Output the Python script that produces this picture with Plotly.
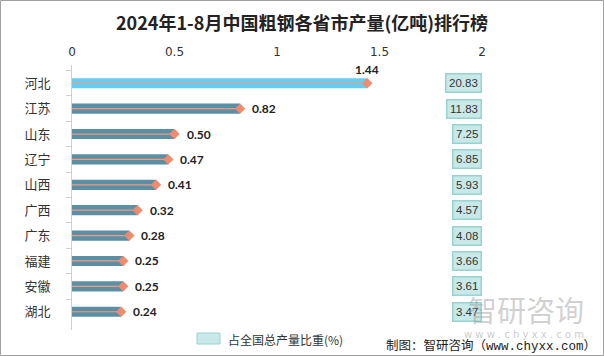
import plotly.graph_objects as go

provinces = ["河北", "江苏", "山东", "辽宁", "山西", "广西", "广东", "福建", "安徽", "湖北"]
output = [1.44, 0.82, 0.50, 0.47, 0.41, 0.32, 0.28, 0.25, 0.25, 0.24]
share = ["20.83", "11.83", "7.25", "6.85", "5.93", "4.57", "4.08", "3.66", "3.61", "3.47"]
x_ticks = [0, 0.5, 1, 1.5, 2]
x_tick_labels = ["0", "0.5", "1", "1.5", "2"]

W, H = 604, 356
ML, MR, MT, MB = 72, 122, 65, 26
PW, PH = W - ML - MR, H - MT - MB

bar_colors = ["#68cbf0"] + ["#5b8fa4"] * (len(provinces) - 1)


def px_x(px):
    return (px - ML) / PW


def px_y(py):
    return (H - MB - py) / PH


fig = go.Figure()
fig.add_trace(go.Bar(
    x=output, y=provinces, orientation="h",
    marker=dict(color=bar_colors, line=dict(width=0)),
    width=0.4, showlegend=False, hoverinfo="x+y",
))
for p, v in zip(provinces, output):
    fig.add_trace(go.Scatter(
        x=[0, v], y=[p, p], mode="lines",
        line=dict(color="#f19a80", width=1.2),
        showlegend=False, hoverinfo="skip",
    ))
fig.add_trace(go.Scatter(
    x=output, y=provinces, mode="markers",
    marker=dict(symbol="diamond", size=8, color="#ef8c70"),
    showlegend=False, hoverinfo="skip",
))

ann = []
for i, (p, v) in enumerate(zip(provinces, output)):
    if i == 0:
        ann.append(dict(x=v, y=p, text=f"<b>{v:.2f}</b>", showarrow=False,
                        xanchor="center", yanchor="bottom", yshift=4,
                        font=dict(size=12, color="#222", family="Lato, Open Sans, sans-serif")))
    else:
        ann.append(dict(x=v, y=p, text=f"<b>{v:.2f}</b>", showarrow=False,
                        xanchor="left", xshift=10,
                        font=dict(size=12, color="#222", family="Lato, Open Sans, sans-serif")))
    ann.append(dict(x=2.0, y=p, text=share[i], showarrow=False, xanchor="right",
                    xshift=0, bgcolor="#c9e9e8", bordercolor="#97d4cf", borderwidth=1.5,
                    borderpad=2.5,
                    font=dict(size=11.5, color="#333", family="Liberation Sans, Arial, sans-serif")))

# watermark
ann.append(dict(xref="paper", yref="paper", x=px_x(586), y=px_y(309),
                text="智研咨询", showarrow=False, xanchor="right", yanchor="middle",
                font=dict(size=29, color="rgba(150,150,150,0.45)", family="Noto Sans CJK SC")))
ann.append(dict(xref="paper", yref="paper", x=px_x(586), y=px_y(334),
                text="w w w . c h y x x . c o m", showarrow=False, xanchor="right", yanchor="middle",
                font=dict(size=10, color="rgba(150,150,150,0.5)", family="DejaVu Sans")))
# legend
ann.append(dict(xref="paper", yref="paper", x=px_x(226), y=px_y(339),
                text="占全国总产量比重(%)", showarrow=False, xanchor="left", yanchor="middle",
                font=dict(size=12, color="#333", family="Noto Sans CJK SC")))
# source
ann.append(dict(xref="paper", yref="paper", x=px_x(598), y=px_y(344),
                text="制图：智研咨询（<span style=\"font-family:Liberation Mono\">www.chyxx.com</span>）",
                showarrow=False, xanchor="right", yanchor="middle",
                font=dict(size=12.5, color="#222", family="Noto Sans CJK SC")))

shapes = [
    dict(type="rect", xref="paper", yref="paper",
         x0=px_x(197), x1=px_x(220), y0=px_y(344), y1=px_y(333),
         fillcolor="#c9e9e8", line=dict(color="#97d4cf", width=1)),
    dict(type="rect", xref="paper", yref="paper",
         x0=px_x(0.5), x1=px_x(W - 0.5), y0=px_y(H - 0.5), y1=px_y(0.5),
         line=dict(color="#a0a0a0", width=1), fillcolor="rgba(0,0,0,0)", layer="below"),
]

fig.update_layout(
    width=W, height=H,
    margin=dict(l=ML, r=MR, t=MT, b=MB, pad=0, autoexpand=False),
    paper_bgcolor="white", plot_bgcolor="white",
    title=dict(text="<b>2024年1-8月中国粗钢各省市产量(亿吨)排行榜</b>", x=0.5, xref="container",
               xanchor="center", y=1 - 24 / H, yref="container", yanchor="middle",
               font=dict(size=18, color="#222", family="Noto Sans CJK SC")),
    xaxis=dict(range=[0, 2], side="top", tickvals=x_ticks, ticktext=x_tick_labels,
               showgrid=False, zeroline=False, showline=False, ticks="",
               tickfont=dict(size=12, color="#333", family="DejaVu Sans"), ticklabelstandoff=6,
               fixedrange=True, automargin=False),
    yaxis=dict(autorange="reversed", showgrid=False, zeroline=False,
               showline=True, linecolor="#d0d0d0", linewidth=1,
               ticks="outside", tickson="boundaries", ticklen=5, tickcolor="#d0d0d0",
               tickfont=dict(size=13, color="#333", family="Noto Sans CJK SC"),
               ticklabelstandoff=18, fixedrange=True, automargin=False),
    annotations=ann, shapes=shapes, bargap=0.6,
)

fig.write_html("out.html", config={"displayModeBar": False},
               post_script="document.body.style.margin='0px';document.body.style.padding='0px';")
